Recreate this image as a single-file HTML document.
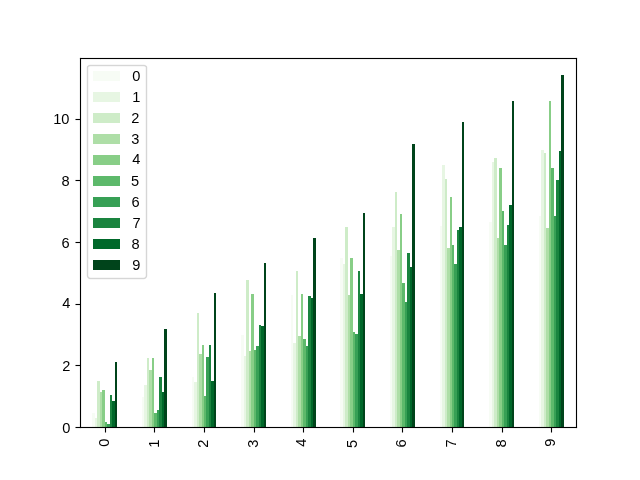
<!DOCTYPE html>
<html><head><meta charset="utf-8"><title>Bar chart</title><style>html,body{margin:0;padding:0;background:#fff;width:640px;height:480px;overflow:hidden}svg{display:block}text{font-family:"Liberation Sans",sans-serif}.t{will-change:transform}</style></head><body>
<svg width="640" height="480" viewBox="0 0 640 480">
<rect x="0" y="0" width="640" height="480" fill="#ffffff"/>
<g shape-rendering="crispEdges">
<rect x="92" y="413" width="3" height="14" fill="#f7fcf5"/>
<rect x="142" y="397" width="2" height="30" fill="#f7fcf5"/>
<rect x="192" y="377" width="2" height="50" fill="#f7fcf5"/>
<rect x="241" y="335" width="3" height="92" fill="#f7fcf5"/>
<rect x="291" y="295" width="2" height="132" fill="#f7fcf5"/>
<rect x="340" y="258" width="3" height="169" fill="#f7fcf5"/>
<rect x="390" y="256" width="2" height="171" fill="#f7fcf5"/>
<rect x="440" y="226" width="2" height="201" fill="#f7fcf5"/>
<rect x="489" y="222" width="3" height="205" fill="#f7fcf5"/>
<rect x="539" y="216" width="2" height="211" fill="#f7fcf5"/>
<rect x="95" y="418" width="2" height="9" fill="#e7f6e3"/>
<rect x="144" y="385" width="3" height="42" fill="#e7f6e3"/>
<rect x="194" y="382" width="3" height="45" fill="#e7f6e3"/>
<rect x="244" y="356" width="2" height="71" fill="#e7f6e3"/>
<rect x="293" y="343" width="3" height="84" fill="#e7f6e3"/>
<rect x="343" y="264" width="2" height="163" fill="#e7f6e3"/>
<rect x="392" y="227" width="3" height="200" fill="#e7f6e3"/>
<rect x="442" y="165" width="3" height="262" fill="#e7f6e3"/>
<rect x="492" y="162" width="2" height="265" fill="#e7f6e3"/>
<rect x="541" y="150" width="3" height="277" fill="#e7f6e3"/>
<rect x="97" y="381" width="3" height="46" fill="#ceecc8"/>
<rect x="147" y="358" width="2" height="69" fill="#ceecc8"/>
<rect x="197" y="313" width="2" height="114" fill="#ceecc8"/>
<rect x="246" y="280" width="3" height="147" fill="#ceecc8"/>
<rect x="296" y="271" width="2" height="156" fill="#ceecc8"/>
<rect x="345" y="227" width="3" height="200" fill="#ceecc8"/>
<rect x="395" y="192" width="2" height="235" fill="#ceecc8"/>
<rect x="445" y="179" width="2" height="248" fill="#ceecc8"/>
<rect x="494" y="158" width="3" height="269" fill="#ceecc8"/>
<rect x="544" y="153" width="2" height="274" fill="#ceecc8"/>
<rect x="100" y="392" width="2" height="35" fill="#aedea7"/>
<rect x="149" y="370" width="3" height="57" fill="#aedea7"/>
<rect x="199" y="354" width="3" height="73" fill="#aedea7"/>
<rect x="249" y="351" width="2" height="76" fill="#aedea7"/>
<rect x="298" y="336" width="3" height="91" fill="#aedea7"/>
<rect x="348" y="295" width="2" height="132" fill="#aedea7"/>
<rect x="397" y="250" width="3" height="177" fill="#aedea7"/>
<rect x="447" y="248" width="3" height="179" fill="#aedea7"/>
<rect x="497" y="238" width="2" height="189" fill="#aedea7"/>
<rect x="546" y="228" width="3" height="199" fill="#aedea7"/>
<rect x="102" y="390" width="3" height="37" fill="#88ce87"/>
<rect x="152" y="358" width="2" height="69" fill="#88ce87"/>
<rect x="202" y="345" width="2" height="82" fill="#88ce87"/>
<rect x="251" y="294" width="3" height="133" fill="#88ce87"/>
<rect x="301" y="294" width="2" height="133" fill="#88ce87"/>
<rect x="350" y="258" width="3" height="169" fill="#88ce87"/>
<rect x="400" y="214" width="2" height="213" fill="#88ce87"/>
<rect x="450" y="197" width="2" height="230" fill="#88ce87"/>
<rect x="499" y="168" width="3" height="259" fill="#88ce87"/>
<rect x="549" y="101" width="2" height="326" fill="#88ce87"/>
<rect x="105" y="422" width="2" height="5" fill="#5db96b"/>
<rect x="154" y="413" width="3" height="14" fill="#5db96b"/>
<rect x="204" y="396" width="2" height="31" fill="#5db96b"/>
<rect x="254" y="350" width="2" height="77" fill="#5db96b"/>
<rect x="303" y="339" width="3" height="88" fill="#5db96b"/>
<rect x="353" y="332" width="2" height="95" fill="#5db96b"/>
<rect x="402" y="283" width="3" height="144" fill="#5db96b"/>
<rect x="452" y="245" width="2" height="182" fill="#5db96b"/>
<rect x="502" y="211" width="2" height="216" fill="#5db96b"/>
<rect x="551" y="168" width="3" height="259" fill="#5db96b"/>
<rect x="107" y="424" width="3" height="3" fill="#37a055"/>
<rect x="157" y="410" width="2" height="17" fill="#37a055"/>
<rect x="206" y="357" width="3" height="70" fill="#37a055"/>
<rect x="256" y="346" width="3" height="81" fill="#37a055"/>
<rect x="306" y="346" width="2" height="81" fill="#37a055"/>
<rect x="355" y="334" width="3" height="93" fill="#37a055"/>
<rect x="405" y="302" width="2" height="125" fill="#37a055"/>
<rect x="454" y="264" width="3" height="163" fill="#37a055"/>
<rect x="504" y="245" width="3" height="182" fill="#37a055"/>
<rect x="554" y="216" width="2" height="211" fill="#37a055"/>
<rect x="110" y="395" width="2" height="32" fill="#1a843f"/>
<rect x="159" y="377" width="3" height="50" fill="#1a843f"/>
<rect x="209" y="345" width="2" height="82" fill="#1a843f"/>
<rect x="259" y="325" width="2" height="102" fill="#1a843f"/>
<rect x="308" y="296" width="3" height="131" fill="#1a843f"/>
<rect x="358" y="271" width="2" height="156" fill="#1a843f"/>
<rect x="407" y="253" width="3" height="174" fill="#1a843f"/>
<rect x="457" y="230" width="2" height="197" fill="#1a843f"/>
<rect x="507" y="225" width="2" height="202" fill="#1a843f"/>
<rect x="556" y="180" width="3" height="247" fill="#1a843f"/>
<rect x="112" y="401" width="3" height="26" fill="#00682a"/>
<rect x="162" y="392" width="2" height="35" fill="#00682a"/>
<rect x="211" y="381" width="3" height="46" fill="#00682a"/>
<rect x="261" y="326" width="3" height="101" fill="#00682a"/>
<rect x="311" y="298" width="2" height="129" fill="#00682a"/>
<rect x="360" y="294" width="3" height="133" fill="#00682a"/>
<rect x="410" y="267" width="2" height="160" fill="#00682a"/>
<rect x="459" y="227" width="3" height="200" fill="#00682a"/>
<rect x="509" y="205" width="3" height="222" fill="#00682a"/>
<rect x="559" y="151" width="2" height="276" fill="#00682a"/>
<rect x="115" y="362" width="2" height="65" fill="#00441b"/>
<rect x="164" y="329" width="3" height="98" fill="#00441b"/>
<rect x="214" y="293" width="2" height="134" fill="#00441b"/>
<rect x="264" y="263" width="2" height="164" fill="#00441b"/>
<rect x="313" y="238" width="3" height="189" fill="#00441b"/>
<rect x="363" y="213" width="2" height="214" fill="#00441b"/>
<rect x="412" y="144" width="3" height="283" fill="#00441b"/>
<rect x="462" y="122" width="2" height="305" fill="#00441b"/>
<rect x="512" y="101" width="2" height="326" fill="#00441b"/>
<rect x="561" y="75" width="3" height="352" fill="#00441b"/>
</g>
<g shape-rendering="crispEdges" fill="#000">
<rect x="82" y="57" width="493" height="1" fill-opacity="0.0549"/><rect x="79" y="58" width="1" height="1" fill-opacity="0.1098"/><rect x="75" y="118" width="1" height="1" fill-opacity="0.0275"/><rect x="76" y="118" width="3" height="1" fill-opacity="0.0549"/><rect x="79" y="118" width="1" height="1" fill-opacity="0.1098"/><rect x="80" y="59" width="1" height="60"/><rect x="79" y="60" width="1" height="58" fill-opacity="0.0549"/><rect x="75" y="120" width="1" height="1" fill-opacity="0.0275"/><rect x="76" y="120" width="3" height="1" fill-opacity="0.0549"/><rect x="79" y="120" width="1" height="1" fill-opacity="0.1098"/><rect x="75" y="119" width="1" height="1" fill-opacity="0.5020"/><rect x="76" y="119" width="5" height="1"/><rect x="75" y="179" width="1" height="1" fill-opacity="0.0275"/><rect x="76" y="179" width="3" height="1" fill-opacity="0.0549"/><rect x="79" y="179" width="1" height="1" fill-opacity="0.1098"/><rect x="80" y="120" width="1" height="60"/><rect x="79" y="121" width="1" height="58" fill-opacity="0.0549"/><rect x="75" y="181" width="1" height="1" fill-opacity="0.0275"/><rect x="76" y="181" width="3" height="1" fill-opacity="0.0549"/><rect x="79" y="181" width="1" height="1" fill-opacity="0.1098"/><rect x="75" y="180" width="1" height="1" fill-opacity="0.5020"/><rect x="76" y="180" width="5" height="1"/><rect x="75" y="241" width="1" height="1" fill-opacity="0.0275"/><rect x="76" y="241" width="3" height="1" fill-opacity="0.0549"/><rect x="79" y="241" width="1" height="1" fill-opacity="0.1098"/><rect x="80" y="181" width="1" height="61"/><rect x="79" y="182" width="1" height="59" fill-opacity="0.0549"/><rect x="75" y="243" width="1" height="1" fill-opacity="0.0275"/><rect x="76" y="243" width="3" height="1" fill-opacity="0.0549"/><rect x="79" y="243" width="1" height="1" fill-opacity="0.1098"/><rect x="75" y="242" width="1" height="1" fill-opacity="0.5020"/><rect x="76" y="242" width="5" height="1"/><rect x="75" y="303" width="1" height="1" fill-opacity="0.0275"/><rect x="76" y="303" width="3" height="1" fill-opacity="0.0549"/><rect x="79" y="303" width="1" height="1" fill-opacity="0.1098"/><rect x="80" y="243" width="1" height="61"/><rect x="79" y="244" width="1" height="59" fill-opacity="0.0549"/><rect x="75" y="305" width="1" height="1" fill-opacity="0.0275"/><rect x="76" y="305" width="3" height="1" fill-opacity="0.0549"/><rect x="79" y="305" width="1" height="1" fill-opacity="0.1098"/><rect x="75" y="304" width="1" height="1" fill-opacity="0.5020"/><rect x="76" y="304" width="5" height="1"/><rect x="75" y="364" width="1" height="1" fill-opacity="0.0275"/><rect x="76" y="364" width="3" height="1" fill-opacity="0.0549"/><rect x="79" y="364" width="1" height="1" fill-opacity="0.1098"/><rect x="80" y="305" width="1" height="60"/><rect x="79" y="306" width="1" height="58" fill-opacity="0.0549"/><rect x="75" y="366" width="1" height="1" fill-opacity="0.0275"/><rect x="76" y="366" width="3" height="1" fill-opacity="0.0549"/><rect x="81" y="59" width="1" height="1" fill-opacity="0.1098"/><rect x="575" y="59" width="1" height="1" fill-opacity="0.1098"/><rect x="577" y="59" width="1" height="1" fill-opacity="0.0588"/><rect x="75" y="365" width="1" height="1" fill-opacity="0.5020"/><rect x="577" y="58" width="1" height="1" fill-opacity="0.1098"/><rect x="75" y="426" width="1" height="1" fill-opacity="0.0275"/><rect x="76" y="426" width="3" height="1" fill-opacity="0.0549"/><rect x="81" y="57" width="1" height="1" fill-opacity="0.0588"/><rect x="575" y="57" width="1" height="1" fill-opacity="0.0588"/><rect x="576" y="57" width="1" height="1" fill-opacity="0.1098"/><rect x="577" y="57" width="1" height="1" fill-opacity="0.0078"/><rect x="79" y="57" width="1" height="1" fill-opacity="0.0078"/><rect x="80" y="57" width="1" height="1" fill-opacity="0.1098"/><rect x="81" y="428" width="1" height="1" fill-opacity="0.0588"/><rect x="82" y="59" width="493" height="1" fill-opacity="0.0549"/><rect x="575" y="428" width="1" height="1" fill-opacity="0.0588"/><rect x="576" y="428" width="1" height="1" fill-opacity="0.1098"/><rect x="577" y="428" width="1" height="1" fill-opacity="0.0078"/><rect x="79" y="366" width="1" height="1" fill-opacity="0.1098"/><rect x="80" y="58" width="497" height="1"/><rect x="577" y="427" width="1" height="1" fill-opacity="0.1098"/><rect x="79" y="59" width="1" height="1" fill-opacity="0.0588"/><rect x="80" y="366" width="1" height="61"/><rect x="81" y="426" width="1" height="1" fill-opacity="0.1098"/><rect x="575" y="426" width="1" height="1" fill-opacity="0.1098"/><rect x="576" y="59" width="1" height="368"/><rect x="577" y="426" width="1" height="1" fill-opacity="0.0588"/><rect x="79" y="367" width="1" height="59" fill-opacity="0.0549"/><rect x="81" y="60" width="1" height="366" fill-opacity="0.0549"/><rect x="575" y="60" width="1" height="366" fill-opacity="0.0549"/><rect x="577" y="60" width="1" height="366" fill-opacity="0.0549"/><rect x="75" y="428" width="1" height="1" fill-opacity="0.0275"/><rect x="76" y="428" width="3" height="1" fill-opacity="0.0549"/><rect x="75" y="427" width="1" height="1" fill-opacity="0.5020"/><rect x="76" y="365" width="5" height="1"/><rect x="79" y="426" width="1" height="1" fill-opacity="0.1137"/><rect x="82" y="426" width="13" height="1" fill-opacity="0.0549"/><rect x="95" y="426" width="2" height="1" fill-opacity="0.0588"/><rect x="97" y="426" width="3" height="1" fill-opacity="0.0549"/><rect x="100" y="426" width="7" height="1" fill-opacity="0.0588"/><rect x="107" y="426" width="3" height="1" fill-opacity="0.0549"/><rect x="110" y="426" width="7" height="1" fill-opacity="0.0588"/><rect x="117" y="426" width="27" height="1" fill-opacity="0.0549"/><rect x="144" y="426" width="3" height="1" fill-opacity="0.0588"/><rect x="147" y="426" width="2" height="1" fill-opacity="0.0549"/><rect x="149" y="426" width="8" height="1" fill-opacity="0.0588"/><rect x="157" y="426" width="2" height="1" fill-opacity="0.0549"/><rect x="159" y="426" width="8" height="1" fill-opacity="0.0588"/><rect x="167" y="426" width="27" height="1" fill-opacity="0.0549"/><rect x="194" y="426" width="3" height="1" fill-opacity="0.0588"/><rect x="197" y="426" width="2" height="1" fill-opacity="0.0549"/><rect x="199" y="426" width="7" height="1" fill-opacity="0.0588"/><rect x="206" y="426" width="3" height="1" fill-opacity="0.0549"/><rect x="209" y="426" width="7" height="1" fill-opacity="0.0588"/><rect x="216" y="426" width="28" height="1" fill-opacity="0.0549"/><rect x="244" y="426" width="2" height="1" fill-opacity="0.0588"/><rect x="246" y="426" width="3" height="1" fill-opacity="0.0549"/><rect x="249" y="426" width="7" height="1" fill-opacity="0.0588"/><rect x="256" y="426" width="3" height="1" fill-opacity="0.0549"/><rect x="259" y="426" width="7" height="1" fill-opacity="0.0588"/><rect x="266" y="426" width="27" height="1" fill-opacity="0.0549"/><rect x="293" y="426" width="3" height="1" fill-opacity="0.0588"/><rect x="296" y="426" width="2" height="1" fill-opacity="0.0549"/><rect x="298" y="426" width="8" height="1" fill-opacity="0.0588"/><rect x="306" y="426" width="2" height="1" fill-opacity="0.0549"/><rect x="308" y="426" width="8" height="1" fill-opacity="0.0588"/><rect x="316" y="426" width="27" height="1" fill-opacity="0.0549"/><rect x="343" y="426" width="2" height="1" fill-opacity="0.0588"/><rect x="345" y="426" width="3" height="1" fill-opacity="0.0549"/><rect x="348" y="426" width="7" height="1" fill-opacity="0.0588"/><rect x="355" y="426" width="3" height="1" fill-opacity="0.0549"/><rect x="358" y="426" width="7" height="1" fill-opacity="0.0588"/><rect x="365" y="426" width="27" height="1" fill-opacity="0.0549"/><rect x="392" y="426" width="3" height="1" fill-opacity="0.0588"/><rect x="395" y="426" width="2" height="1" fill-opacity="0.0549"/><rect x="397" y="426" width="8" height="1" fill-opacity="0.0588"/><rect x="405" y="426" width="2" height="1" fill-opacity="0.0549"/><rect x="407" y="426" width="8" height="1" fill-opacity="0.0588"/><rect x="415" y="426" width="27" height="1" fill-opacity="0.0549"/><rect x="442" y="426" width="3" height="1" fill-opacity="0.0588"/><rect x="445" y="426" width="2" height="1" fill-opacity="0.0549"/><rect x="447" y="426" width="7" height="1" fill-opacity="0.0588"/><rect x="454" y="426" width="3" height="1" fill-opacity="0.0549"/><rect x="457" y="426" width="7" height="1" fill-opacity="0.0588"/><rect x="464" y="426" width="28" height="1" fill-opacity="0.0549"/><rect x="492" y="426" width="2" height="1" fill-opacity="0.0588"/><rect x="494" y="426" width="3" height="1" fill-opacity="0.0549"/><rect x="497" y="426" width="7" height="1" fill-opacity="0.0588"/><rect x="504" y="426" width="3" height="1" fill-opacity="0.0549"/><rect x="507" y="426" width="7" height="1" fill-opacity="0.0588"/><rect x="514" y="426" width="27" height="1" fill-opacity="0.0549"/><rect x="541" y="426" width="3" height="1" fill-opacity="0.0588"/><rect x="544" y="426" width="2" height="1" fill-opacity="0.0549"/><rect x="546" y="426" width="8" height="1" fill-opacity="0.0588"/><rect x="554" y="426" width="2" height="1" fill-opacity="0.0549"/><rect x="556" y="426" width="8" height="1" fill-opacity="0.0588"/><rect x="564" y="426" width="11" height="1" fill-opacity="0.0549"/><rect x="76" y="427" width="501" height="1"/><rect x="79" y="428" width="1" height="1" fill-opacity="0.0627"/><rect x="80" y="428" width="1" height="1" fill-opacity="0.1333"/><rect x="82" y="428" width="22" height="1" fill-opacity="0.0549"/><rect x="104" y="428" width="1" height="1" fill-opacity="0.1098"/><rect x="105" y="428" width="1" height="4"/><rect x="106" y="428" width="1" height="1" fill-opacity="0.1098"/><rect x="107" y="428" width="46" height="1" fill-opacity="0.0549"/><rect x="153" y="428" width="1" height="1" fill-opacity="0.1098"/><rect x="154" y="428" width="1" height="4"/><rect x="155" y="428" width="1" height="1" fill-opacity="0.1098"/><rect x="156" y="428" width="47" height="1" fill-opacity="0.0549"/><rect x="203" y="428" width="1" height="1" fill-opacity="0.1098"/><rect x="204" y="428" width="1" height="4"/><rect x="205" y="428" width="1" height="1" fill-opacity="0.1098"/><rect x="206" y="428" width="47" height="1" fill-opacity="0.0549"/><rect x="253" y="428" width="1" height="1" fill-opacity="0.1098"/><rect x="254" y="428" width="1" height="4"/><rect x="255" y="428" width="1" height="1" fill-opacity="0.1098"/><rect x="256" y="428" width="46" height="1" fill-opacity="0.0549"/><rect x="302" y="428" width="1" height="1" fill-opacity="0.1098"/><rect x="303" y="428" width="1" height="4"/><rect x="304" y="428" width="1" height="1" fill-opacity="0.1098"/><rect x="305" y="428" width="47" height="1" fill-opacity="0.0549"/><rect x="352" y="428" width="1" height="1" fill-opacity="0.1098"/><rect x="353" y="428" width="1" height="4"/><rect x="354" y="428" width="1" height="1" fill-opacity="0.1098"/><rect x="355" y="428" width="46" height="1" fill-opacity="0.0549"/><rect x="401" y="428" width="1" height="1" fill-opacity="0.1098"/><rect x="402" y="428" width="1" height="4"/><rect x="403" y="428" width="1" height="1" fill-opacity="0.1098"/><rect x="404" y="428" width="47" height="1" fill-opacity="0.0549"/><rect x="451" y="428" width="1" height="1" fill-opacity="0.1098"/><rect x="452" y="428" width="1" height="4"/><rect x="453" y="428" width="1" height="1" fill-opacity="0.1098"/><rect x="454" y="428" width="47" height="1" fill-opacity="0.0549"/><rect x="501" y="428" width="1" height="1" fill-opacity="0.1098"/><rect x="502" y="428" width="1" height="4"/><rect x="503" y="428" width="1" height="1" fill-opacity="0.1098"/><rect x="504" y="428" width="46" height="1" fill-opacity="0.0549"/><rect x="550" y="428" width="1" height="1" fill-opacity="0.1098"/><rect x="551" y="428" width="1" height="4"/><rect x="552" y="428" width="1" height="1" fill-opacity="0.1098"/><rect x="553" y="428" width="22" height="1" fill-opacity="0.0549"/><rect x="104" y="429" width="1" height="3" fill-opacity="0.0549"/><rect x="106" y="429" width="1" height="3" fill-opacity="0.0549"/><rect x="153" y="429" width="1" height="3" fill-opacity="0.0549"/><rect x="155" y="429" width="1" height="3" fill-opacity="0.0549"/><rect x="203" y="429" width="1" height="3" fill-opacity="0.0549"/><rect x="205" y="429" width="1" height="3" fill-opacity="0.0549"/><rect x="253" y="429" width="1" height="3" fill-opacity="0.0549"/><rect x="255" y="429" width="1" height="3" fill-opacity="0.0549"/><rect x="302" y="429" width="1" height="3" fill-opacity="0.0549"/><rect x="304" y="429" width="1" height="3" fill-opacity="0.0549"/><rect x="352" y="429" width="1" height="3" fill-opacity="0.0549"/><rect x="354" y="429" width="1" height="3" fill-opacity="0.0549"/><rect x="401" y="429" width="1" height="3" fill-opacity="0.0549"/><rect x="403" y="429" width="1" height="3" fill-opacity="0.0549"/><rect x="451" y="429" width="1" height="3" fill-opacity="0.0549"/><rect x="453" y="429" width="1" height="3" fill-opacity="0.0549"/><rect x="501" y="429" width="1" height="3" fill-opacity="0.0549"/><rect x="503" y="429" width="1" height="3" fill-opacity="0.0549"/><rect x="550" y="429" width="1" height="3" fill-opacity="0.0549"/><rect x="552" y="429" width="1" height="3" fill-opacity="0.0549"/><rect x="104" y="432" width="1" height="1" fill-opacity="0.0275"/><rect x="105" y="432" width="1" height="1" fill-opacity="0.5020"/><rect x="106" y="432" width="1" height="1" fill-opacity="0.0275"/><rect x="153" y="432" width="1" height="1" fill-opacity="0.0275"/><rect x="154" y="432" width="1" height="1" fill-opacity="0.5020"/><rect x="155" y="432" width="1" height="1" fill-opacity="0.0275"/><rect x="203" y="432" width="1" height="1" fill-opacity="0.0275"/><rect x="204" y="432" width="1" height="1" fill-opacity="0.5020"/><rect x="205" y="432" width="1" height="1" fill-opacity="0.0275"/><rect x="253" y="432" width="1" height="1" fill-opacity="0.0275"/><rect x="254" y="432" width="1" height="1" fill-opacity="0.5020"/><rect x="255" y="432" width="1" height="1" fill-opacity="0.0275"/><rect x="302" y="432" width="1" height="1" fill-opacity="0.0275"/><rect x="303" y="432" width="1" height="1" fill-opacity="0.5020"/><rect x="304" y="432" width="1" height="1" fill-opacity="0.0275"/><rect x="352" y="432" width="1" height="1" fill-opacity="0.0275"/><rect x="353" y="432" width="1" height="1" fill-opacity="0.5020"/><rect x="354" y="432" width="1" height="1" fill-opacity="0.0275"/><rect x="401" y="432" width="1" height="1" fill-opacity="0.0275"/><rect x="402" y="432" width="1" height="1" fill-opacity="0.5020"/><rect x="403" y="432" width="1" height="1" fill-opacity="0.0275"/><rect x="451" y="432" width="1" height="1" fill-opacity="0.0275"/><rect x="452" y="432" width="1" height="1" fill-opacity="0.5020"/><rect x="453" y="432" width="1" height="1" fill-opacity="0.0275"/><rect x="501" y="432" width="1" height="1" fill-opacity="0.0275"/><rect x="502" y="432" width="1" height="1" fill-opacity="0.5020"/><rect x="503" y="432" width="1" height="1" fill-opacity="0.0275"/><rect x="550" y="432" width="1" height="1" fill-opacity="0.0275"/><rect x="551" y="432" width="1" height="1" fill-opacity="0.5020"/><rect x="552" y="432" width="1" height="1" fill-opacity="0.0275"/>
</g>
<g shape-rendering="crispEdges">
<rect x="90" y="66" width="1" height="1" fill="#f6f6f6"/><rect x="91" y="66" width="52" height="1" fill="#f7f7f7"/><rect x="143" y="66" width="1" height="1" fill="#f6f6f6"/><rect x="89" y="65" width="56" height="1" fill="#d6d6d6"/><rect x="90" y="64" width="54" height="1" fill="#f7f7f7"/><rect x="88" y="64" width="1" height="1" fill="#fefefe"/><rect x="89" y="64" width="1" height="1" fill="#fafafa"/><rect x="90" y="279" width="54" height="1" fill="#f7f7f7"/><rect x="144" y="64" width="1" height="1" fill="#fafafa"/><rect x="145" y="64" width="1" height="1" fill="#fefefe"/><rect x="87" y="65" width="1" height="1" fill="#f9f9f9"/><rect x="88" y="65" width="1" height="1" fill="#e0e0e0"/><rect x="89" y="278" width="56" height="1" fill="#d6d6d6"/><rect x="145" y="65" width="1" height="1" fill="#e0e0e0"/><rect x="146" y="65" width="1" height="1" fill="#f9f9f9"/><rect x="86" y="66" width="1" height="1" fill="#fdfdfd"/><rect x="87" y="66" width="1" height="1" fill="#d8d8d8"/><rect x="88" y="66" width="1" height="1" fill="#dbdbdb"/><rect x="89" y="66" width="1" height="1" fill="#f0f0f0"/><rect x="90" y="277" width="1" height="1" fill="#f6f6f6"/><rect x="91" y="277" width="52" height="1" fill="#f7f7f7"/><rect x="143" y="277" width="1" height="1" fill="#f6f6f6"/><rect x="144" y="66" width="1" height="1" fill="#f0f0f0"/><rect x="145" y="66" width="1" height="1" fill="#dbdbdb"/><rect x="146" y="66" width="1" height="1" fill="#d8d8d8"/><rect x="147" y="66" width="1" height="1" fill="#fdfdfd"/><rect x="86" y="67" width="1" height="209" fill="#f7f7f7"/><rect x="87" y="67" width="1" height="210" fill="#d6d6d6"/><rect x="88" y="67" width="1" height="1" fill="#f5f5f5"/><rect x="145" y="67" width="1" height="1" fill="#f5f5f5"/><rect x="146" y="67" width="1" height="210" fill="#d6d6d6"/><rect x="147" y="67" width="1" height="209" fill="#f7f7f7"/><rect x="88" y="68" width="1" height="207" fill="#f7f7f7"/><rect x="145" y="68" width="1" height="207" fill="#f7f7f7"/><rect x="88" y="275" width="1" height="1" fill="#f6f6f6"/><rect x="145" y="275" width="1" height="1" fill="#f6f6f6"/><rect x="86" y="276" width="1" height="1" fill="#fcfcfc"/><rect x="88" y="276" width="1" height="1" fill="#ececec"/><rect x="145" y="276" width="1" height="1" fill="#ececec"/><rect x="147" y="276" width="1" height="1" fill="#fcfcfc"/><rect x="87" y="277" width="1" height="1" fill="#e6e6e6"/><rect x="88" y="277" width="1" height="1" fill="#d6d6d6"/><rect x="89" y="277" width="1" height="1" fill="#ececec"/><rect x="144" y="277" width="1" height="1" fill="#ececec"/><rect x="145" y="277" width="1" height="1" fill="#d6d6d6"/><rect x="146" y="277" width="1" height="1" fill="#e6e6e6"/><rect x="87" y="278" width="1" height="1" fill="#fefefe"/><rect x="88" y="278" width="1" height="1" fill="#e6e6e6"/><rect x="145" y="278" width="1" height="1" fill="#e6e6e6"/><rect x="146" y="278" width="1" height="1" fill="#fefefe"/><rect x="89" y="279" width="1" height="1" fill="#fcfcfc"/><rect x="144" y="279" width="1" height="1" fill="#fcfcfc"/>
<rect x="93" y="71" width="27" height="10" fill="#f7fcf5"/>
<rect x="93" y="92" width="27" height="10" fill="#e7f6e3"/>
<rect x="93" y="113" width="27" height="10" fill="#ceecc8"/>
<rect x="93" y="134" width="27" height="10" fill="#aedea7"/>
<rect x="93" y="155" width="27" height="10" fill="#88ce87"/>
<rect x="93" y="176" width="27" height="10" fill="#5db96b"/>
<rect x="93" y="197" width="27" height="10" fill="#37a055"/>
<rect x="93" y="218" width="27" height="10" fill="#1a843f"/>
<rect x="93" y="239" width="27" height="10" fill="#00682a"/>
<rect x="93" y="260" width="27" height="10" fill="#00441b"/>
</g>
<g class="t" font-size="14.6" fill="#000">
<text x="70.34" y="432.60" text-anchor="end">0</text>
<text x="70.37" y="370.53" text-anchor="end">2</text>
<text x="70.33" y="307.62" text-anchor="end">4</text>
<text x="69.53" y="247.60" text-anchor="end">6</text>
<text x="69.50" y="185.52" text-anchor="end">8</text>
<text x="69.37" y="123.55" text-anchor="end">10</text>
<text transform="translate(108.52 438.59) rotate(-90)" text-anchor="end">0</text>
<text transform="translate(158.54 439.60) rotate(-90)" text-anchor="end">1</text>
<text transform="translate(207.56 439.54) rotate(-90)" text-anchor="end">2</text>
<text transform="translate(257.55 439.58) rotate(-90)" text-anchor="end">3</text>
<text transform="translate(305.55 438.54) rotate(-90)" text-anchor="end">4</text>
<text transform="translate(356.58 439.76) rotate(-90)" text-anchor="end">5</text>
<text transform="translate(405.56 439.25) rotate(-90)" text-anchor="end">6</text>
<text transform="translate(455.53 439.33) rotate(-90)" text-anchor="end">7</text>
<text transform="translate(505.53 439.30) rotate(-90)" text-anchor="end">8</text>
<text transform="translate(554.62 438.58) rotate(-90)" text-anchor="end">9</text>
<text x="132.14" y="80.60">0</text>
<text x="132.23" y="101.54">1</text>
<text x="131.21" y="122.53">2</text>
<text x="131.19" y="143.58">3</text>
<text x="132.19" y="163.50">4</text>
<text x="130.89" y="185.56">5</text>
<text x="131.38" y="206.59">6</text>
<text x="132.47" y="227.61">7</text>
<text x="131.48" y="248.51">8</text>
<text x="132.25" y="269.55">9</text>
</g>
</svg>
</body></html>
